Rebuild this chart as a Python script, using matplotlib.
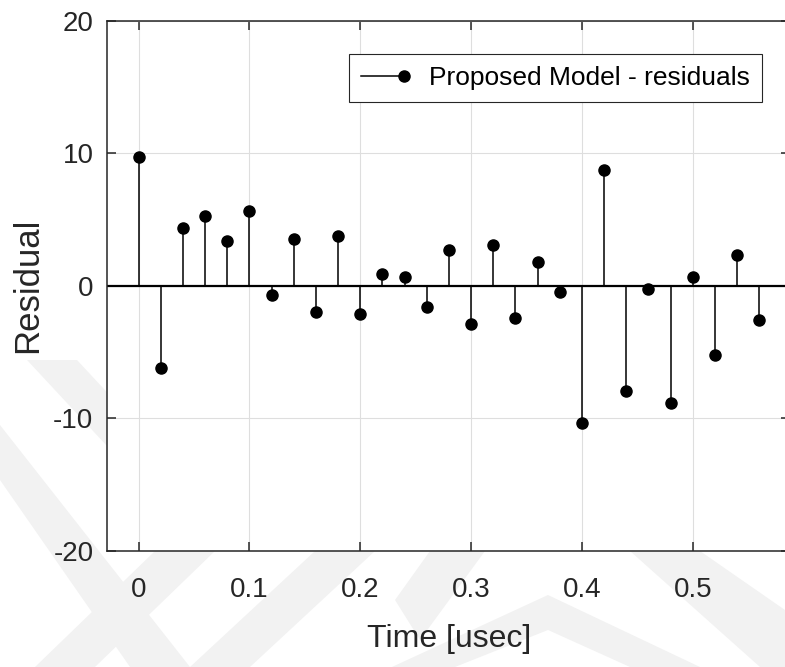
import matplotlib
matplotlib.use("Agg")
import matplotlib.pyplot as plt
from matplotlib import font_manager
from matplotlib.container import StemContainer
from matplotlib.legend_handler import HandlerBase
from matplotlib.lines import Line2D
from matplotlib.patches import Polygon

# residuals of the proposed model, one sample every 0.02 usec
time_us = [0.00, 0.02, 0.04, 0.06, 0.08, 0.10, 0.12, 0.14, 0.16, 0.18,
           0.20, 0.22, 0.24, 0.26, 0.28, 0.30, 0.32, 0.34, 0.36, 0.38,
           0.40, 0.42, 0.44, 0.46, 0.48, 0.50, 0.52, 0.54, 0.56]
residuals = [9.71, -6.24, 4.38, 5.24, 3.40, 5.66, -0.70, 3.50, -2.01, 3.73,
             -2.14, 0.90, 0.66, -1.61, 2.67, -2.89, 3.09, -2.44, 1.79, -0.45,
             -10.39, 8.73, -7.92, -0.23, -8.88, 0.63, -5.23, 2.34, -2.61]

x_ticks = [0, 0.1, 0.2, 0.3, 0.4, 0.5]
x_ticklabels = ["0", "0.1", "0.2", "0.3", "0.4", "0.5"]
y_ticks = [-20, -10, 0, 10, 20]
y_ticklabels = ["-20", "-10", "0", "10", "20"]

installed = {f.name for f in font_manager.fontManager.ttflist}
if "Liberation Sans Narrow" in installed:
    narrow, tick_fs, legend_fs, xlabel_fs = "Liberation Sans Narrow", 22, 21, 25.5
else:
    narrow, tick_fs, legend_fs, xlabel_fs = "Liberation Sans", 20, 19, 23
wide = "Liberation Sans"

ink = "#262626"

W, H = 785, 667
fig = plt.figure(figsize=(W / 100, H / 100), dpi=100)

# faint chevron pattern behind the figure margins
bands = [
    [(27, 360), (77, 360), (170, 460), (120, 460)],
    [(0, 425), (0, 480), (130, 667), (190, 667)],
    [(35, 667), (95, 667), (215, 551), (155, 551)],
    [(190, 667), (250, 667), (375, 551), (315, 551)],
    [(392, 667), (548, 595), (700, 667), (630, 667), (548, 630), (455, 667)],
    [(395, 600), (430, 551), (485, 551), (420, 640)],
    [(630, 551), (700, 551), (785, 610), (785, 667), (760, 667)],
]
for pts in bands:
    fig.patches.append(Polygon([(x / W, 1 - y / H) for x, y in pts], closed=True,
                               transform=fig.transFigure, facecolor="#f2f2f2",
                               edgecolor="none", zorder=-1))

ax = fig.add_axes([107.3 / W, 1 - 550.7 / H, (790 - 107.3) / W, 530 / H])
ax.set_facecolor("white")

sc = ax.stem(time_us, residuals, linefmt="-", markerfmt="o", basefmt="-")
plt.setp(sc.stemlines, color="black", linewidth=1.1)
plt.setp(sc.markerline, color="black", markersize=8)
plt.setp(sc.baseline, color="black", linewidth=1.6)
sc.baseline.set_xdata([-1, 1])

ax.set_xlim(-0.0283, 0.5878)
ax.set_ylim(-20, 20)
ax.set_xticks(x_ticks)
ax.set_xticklabels(x_ticklabels)
ax.set_yticks(y_ticks)
ax.set_yticklabels(y_ticklabels)

ax.grid(True, color="#dedede", linewidth=0.8)
ax.set_axisbelow(True)
for s in ax.spines.values():
    s.set_color(ink)
    s.set_linewidth(1.1)

ax.tick_params(direction="in", length=6.5, width=1.1, color=ink, labelcolor=ink,
               top=True, right=True)
ax.tick_params(axis="x", pad=19)
ax.tick_params(axis="y", pad=10)
for lab in ax.get_xticklabels() + ax.get_yticklabels():
    lab.set_fontfamily(narrow)
    lab.set_fontsize(tick_fs)

ax.set_xlabel("Time [usec]", fontfamily=narrow, fontsize=xlabel_fs, color=ink)
ax.set_ylabel("Residual", fontfamily=wide, fontsize=25, color=ink)
ax.xaxis.set_label_coords(0.5, -0.138)
ax.yaxis.set_label_coords(-0.092, 0.5)


class StemHandler(HandlerBase):
    # horizontal line ending in a filled dot
    def create_artists(self, legend, orig_handle, xdescent, ydescent,
                       width, height, fontsize, trans):
        y = (height - ydescent) / 2
        line = Line2D([-xdescent, width - xdescent], [y, y], color="black", lw=1.1)
        dot = Line2D([width - xdescent], [y], marker="o", ms=8, color="black", ls="none")
        line.set_transform(trans)
        dot.set_transform(trans)
        return [line, dot]


leg = ax.legend([sc], ["Proposed Model - residuals"],
                handler_map={StemContainer: StemHandler()},
                loc="upper right", bbox_to_anchor=(0.959, 0.9366), borderaxespad=0,
                prop={"family": narrow, "size": legend_fs}, fancybox=False, framealpha=1,
                edgecolor=ink, borderpad=0.45, handlelength=1.65, handletextpad=0.95)
leg.get_frame().set_linewidth(0.8)
for t in leg.get_texts():
    t.set_color("black")

fig.savefig("out.png", dpi=100)
